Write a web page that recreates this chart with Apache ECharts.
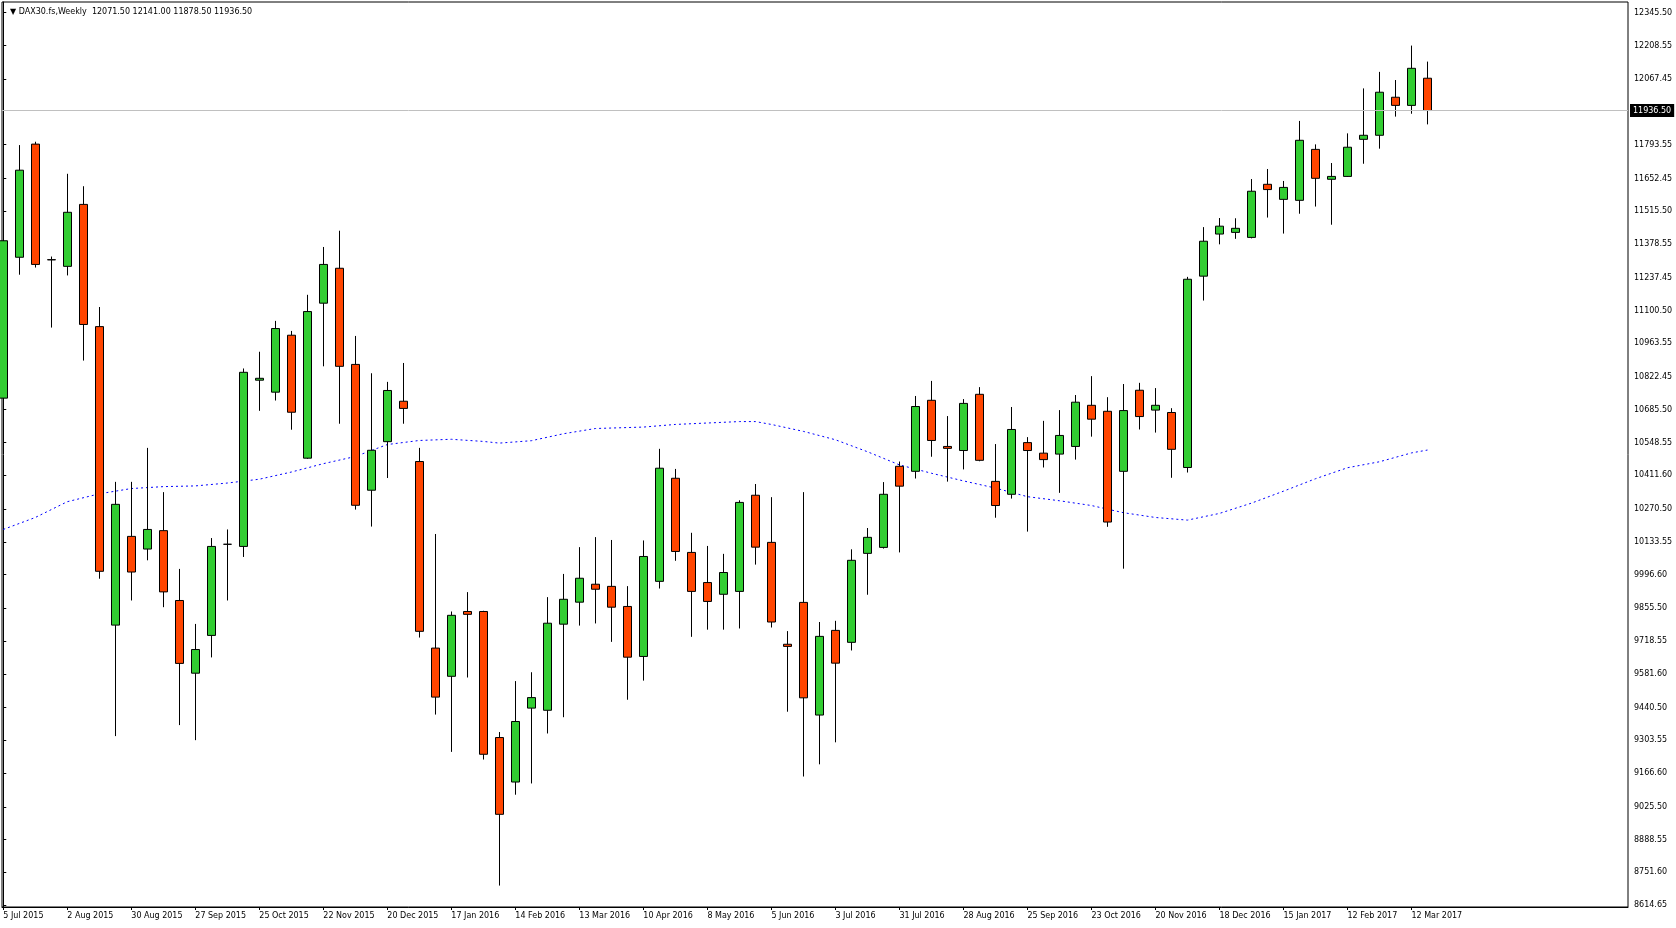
<!DOCTYPE html>
<html>
<head>
<meta charset="utf-8">
<title>DAX30.fs,Weekly</title>
<script src="https://cdn.jsdelivr.net/npm/echarts@6.0.0/dist/echarts.min.js"></script>
<style>
    html, body { margin: 0; padding: 0; background: #fff; }
    #main { width: 1676px; height: 928px; }
</style>
</head>
<body>
<div id="main"></div>
<script>
// weekly bars, index 0 = week of 5 Jul 2015
var open = [10734, 11323, 11796, 11313, 11285, 11544, 11033, 9785, 10156, 10103,
    10180, 9888, 9584, 9742, 10123, 10114, 10809, 10759, 10997, 10483,
    11131, 11277, 10875, 10349, 10552, 10721, 10469, 9689, 9571, 9842,
    9842, 9315, 9129, 9438, 9429, 9789, 9881, 9956, 9947, 9863,
    9654, 9968, 10399, 10089, 9963, 9914, 9926, 10328, 10131, 9705,
    9880, 9409, 9763, 9713, 10085, 10110, 10449, 10428, 10725, 10532,
    10515, 10750, 10386, 10332, 10548, 10504, 10500, 10532, 10704, 10679,
    10428, 10767, 10684, 10674, 10444, 11244, 11420, 11427, 11406, 11628,
    11565, 11561, 11774, 11649, 11661, 11816, 11833, 11992, 11958, 12071.5]
var high = [11405, 11792, 11806, 11326, 11672, 11620, 11115, 10384, 10384, 10526,
    10341, 10020, 9790, 10149, 10185, 10858, 10928, 11057, 11015, 11166,
    11366, 11434, 10994, 10838, 10802, 10881, 10526, 10166, 9842, 9923,
    9845, 9338, 9551, 9588, 9902, 9999, 10111, 10153, 10141, 9948,
    10139, 10522, 10438, 10171, 10116, 10083, 10307, 10375, 10320, 9760,
    10341, 9798, 9803, 10102, 10191, 10383, 10469, 10743, 10806, 10659,
    10730, 10780, 10542, 10697, 10571, 10639, 10684, 10747, 10826, 10738,
    10793, 10798, 10776, 10692, 11241, 11449, 11487, 11486, 11650, 11692,
    11642, 11893, 11795, 11717, 11841, 12029, 12098, 12064, 12208, 12141]
var low = [10653, 11250, 11280, 11029, 11247, 10891, 9979, 9321, 9888, 10056,
    9860, 9367, 9304, 9650, 9888, 10070, 10681, 10724, 10602, 10480,
    10867, 10627, 10268, 10197, 10400, 10627, 9733, 9411, 9255, 9566,
    9223, 8696, 9076, 9123, 9332, 9400, 9783, 9792, 9715, 9473,
    9553, 9938, 10054, 9736, 9766, 9766, 9771, 10038, 9775, 9423,
    9152, 9203, 9295, 9679, 9912, 10105, 10089, 10398, 10489, 10385,
    10436, 10470, 10234, 10314, 10176, 10444, 10338, 10477, 10573, 10196,
    10021, 10603, 10590, 10401, 10423, 11142, 11377, 11400, 11402, 11489,
    11422, 11505, 11535, 11459, 11659, 11714, 11777, 11911, 11923, 11878.5]
var close = [11392, 11687, 11293, 11312, 11511, 11042, 10010, 10290, 10007, 10185,
    9924, 9625, 9683, 10114, 10123, 10842, 10817, 11025, 10675, 11096,
    11293, 10867, 10286, 10516, 10766, 10691, 9759, 9484, 9826, 9830,
    9245, 8994, 9382, 9482, 9793, 9893, 9981, 9935, 9860, 9651,
    10072, 10441, 10093, 9926, 9884, 10005, 10298, 10111, 9798, 9696,
    9481, 9738, 9626, 10056, 10152, 10332, 10366, 10699, 10557, 10524,
    10712, 10474, 10285, 10603, 10515, 10477, 10578, 10717, 10646, 10216,
    10682, 10657, 10704, 10520, 11231, 11390, 11453, 11444, 11599, 11606,
    11615, 11812, 11653, 11661, 11783, 11833, 12013, 11958, 12113, 11936.5]

// moving average (bar index, value)
var maIdx = [0, 2, 4, 6, 8, 10, 12, 14, 16, 18, 20, 22, 24, 26, 28, 30, 31, 33, 35, 37,
    40, 42, 44, 46, 47, 48, 50, 52, 54, 56, 58, 60, 62, 64, 66, 68, 70, 72, 74, 76,
    78, 80, 82, 84, 86, 88, 89]
var maVal = [10185, 10235, 10301, 10334, 10356, 10364, 10367, 10379, 10395, 10425, 10460, 10490, 10540, 10557, 10562, 10553, 10546, 10556, 10585, 10607,
    10613, 10624, 10630, 10636, 10636, 10624, 10595, 10560, 10510, 10455, 10420, 10388, 10358, 10322, 10305, 10285, 10255, 10235, 10224, 10252,
    10295, 10345, 10397, 10443, 10468, 10505, 10517]

// date labels every 4 bars
var weekLabels = ['5 Jul 2015', '2 Aug 2015', '30 Aug 2015', '27 Sep 2015', '25 Oct 2015', '22 Nov 2015',
    '20 Dec 2015', '17 Jan 2016', '14 Feb 2016', '13 Mar 2016', '10 Apr 2016', '8 May 2016',
    '5 Jun 2016', '3 Jul 2016', '31 Jul 2016', '28 Aug 2016', '25 Sep 2016', '23 Oct 2016',
    '20 Nov 2016', '18 Dec 2016', '15 Jan 2017', '12 Feb 2017', '12 Mar 2017']

var priceTicks = [12345.50, 12208.55, 12067.45, 11793.55, 11652.45, 11515.50, 11378.55, 11237.45,
    11100.50, 10963.55, 10822.45, 10685.50, 10548.55, 10411.60, 10270.50, 10133.55, 9996.60,
    9855.50, 9718.55, 9581.60, 9440.50, 9303.55, 9166.60, 9025.50, 8888.55, 8751.60, 8614.65]

let chart = echarts.init(document.getElementById("main"));

var bars = []
for (var i = 0; i < open.length; i++) {
    bars.push([i, open[i], close[i], low[i], high[i]])
}
var ma = []
for (var i = 0; i < maIdx.length; i++) {
    ma.push([maIdx[i], maVal[i]])
}
var labelPos = weekLabels.map(function (d, i) { return i * 4 })
var last = open.length - 1
var header = '\u25BC DAX30.fs,Weekly  ' + open[last].toFixed(2) + ' ' + high[last].toFixed(2) + ' ' +
    low[last].toFixed(2) + ' ' + close[last].toFixed(2)

var font = 'DejaVu Sans'

let option = {
    animation: false,
    backgroundColor: '#fff',
    title: {
        text: header,
        left: 5,
        top: 3,
        textStyle: { fontFamily: font, fontSize: 8, fontWeight: 'normal', color: '#000' }
    },
    grid: {
        left: 2,
        right: 48,
        top: 2,
        bottom: 21,
        show: true,
        borderColor: '#000',
        borderWidth: 1,
        backgroundColor: '#fff'
    },
    xAxis: {
        type: 'value',
        min: -0.08,
        max: 101.53,
        splitLine: { show: false },
        axisLine: { lineStyle: { color: '#000', width: 1 } },
        axisTick: { customValues: labelPos, length: 3, lineStyle: { color: '#000' } },
        axisLabel: {
            customValues: labelPos,
            align: 'left',
            margin: 5,
            fontFamily: font,
            fontSize: 8,
            color: '#000',
            formatter: function (v) { return weekLabels[Math.round(v / 4)] }
        }
    },
    yAxis: {
        type: 'value',
        position: 'right',
        min: 8606.5,
        max: 12390.2,
        scale: true,
        splitLine: { show: false },
        axisLine: { show: true, lineStyle: { color: '#000', width: 1 } },
        axisTick: { show: true, customValues: priceTicks, length: 3, lineStyle: { color: '#000' } },
        axisLabel: {
            customValues: priceTicks,
            margin: 6,
            fontFamily: font,
            fontSize: 8,
            color: '#000',
            formatter: function (v) { return v.toFixed(2) }
        }
    },
    series: [
        {
            name: 'DAX30.fs',
            type: 'candlestick',
            data: bars,
            encode: { x: 0, y: [1, 2, 3, 4] },
            barWidth: 9,
            clip: true,
            itemStyle: {
                color: '#32CD32',
                color0: '#FF4500',
                borderColor: '#000',
                borderColor0: '#000',
                borderColorDoji: '#000',
                borderWidth: 1
            },
            markLine: {
                silent: true,
                symbol: ['none', 'none'],
                lineStyle: { color: '#c0c0c0', type: 'solid', width: 1 },
                label: {
                    position: 'end',
                    distance: 2,
                    formatter: close[last].toFixed(2),
                    color: '#fff',
                    backgroundColor: '#000',
                    padding: [3, 3, 2, 3],
                    fontFamily: font,
                    fontSize: 8
                },
                data: [{ yAxis: close[last] }]
            }
        },
        {
            name: 'MA',
            type: 'line',
            data: ma,
            showSymbol: false,
            silent: true,
            lineStyle: { color: '#0000ff', width: 1, type: [2, 3] },
            z: 1
        }
    ]
};

chart.setOption(option);
</script>
</body>
</html>
